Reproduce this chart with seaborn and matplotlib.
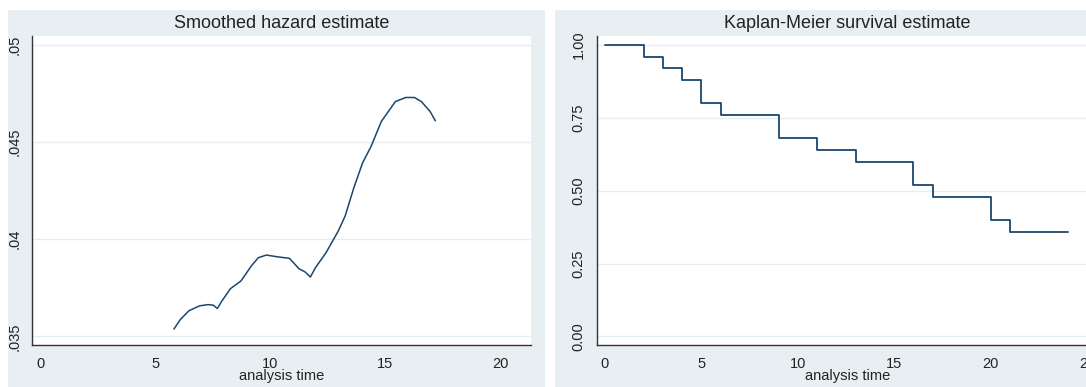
import matplotlib
matplotlib.use("Agg")
import matplotlib.pyplot as plt
from matplotlib.patches import Rectangle
import seaborn as sns
import pandas as pd

# ---- data ----
hazard_time = [5.80, 6.07, 6.45, 6.90, 7.28, 7.51, 7.69, 7.89, 8.26, 8.72, 9.17, 9.47,
               9.82, 10.30, 10.83, 11.24, 11.51, 11.74, 11.96, 12.42, 12.95, 13.25,
               13.63, 14.01, 14.38, 14.83, 15.44, 15.89, 16.27, 16.57, 16.95, 17.18]
hazard_value = [0.03538, 0.03586, 0.03632, 0.03657, 0.03664, 0.03661, 0.03644, 0.03683,
                0.03746, 0.03786, 0.03863, 0.03905, 0.03919, 0.03910, 0.03902, 0.03849,
                0.03832, 0.03806, 0.03854, 0.03931, 0.04042, 0.04119, 0.04265, 0.04393,
                0.04478, 0.04607, 0.04709, 0.04730, 0.04730, 0.04709, 0.04658, 0.04610]

km_time = [0, 2, 3, 4, 5, 6, 9, 11, 13, 16, 17, 20, 21, 24]
km_surv = [1.00, 0.96, 0.92, 0.88, 0.80, 0.76, 0.68, 0.64, 0.60, 0.52, 0.48, 0.40, 0.36, 0.36]

hazard_yticks = [0.035, 0.04, 0.045, 0.05]
hazard_yticklabels = [".035", ".04", ".045", ".05"]
hazard_xticks = [0, 5, 10, 15, 20]
km_yticks = [0.0, 0.25, 0.5, 0.75, 1.0]
km_yticklabels = ["0.00", "0.25", "0.50", "0.75", "1.00"]
km_xticks = [0, 5, 10, 15, 20, 25]

titles = ["Smoothed hazard estimate", "Kaplan-Meier survival estimate"]
xlabel = "analysis time"

# ---- style ----
sns.set_theme(style="white")
plt.rcParams["font.family"] = ["Liberation Sans", "DejaVu Sans"]

W, H = 1086, 387
fig = plt.figure(figsize=(W / 100, H / 100), dpi=100)
fig.patch.set_facecolor("white")

BG = "#e8eff2"
GRID = "#e4edf0"
LINE = "#1a476f"
AXC = "#333333"
TXT = "#222222"

def px(x0, y0, x1, y1):
    return [x0 / W, 1 - y1 / H, (x1 - x0) / W, (y1 - y0) / H]

# graph regions
for (x0, x1) in [(8, 545), (555, 1090)]:
    fig.add_artist(Rectangle((x0 / W, 0), (x1 - x0) / W, (387 - 10) / H,
                             transform=fig.transFigure, facecolor=BG,
                             edgecolor="none", zorder=0))

ax1 = fig.add_axes(px(32.3, 35.7, 530.7, 345))
ax2 = fig.add_axes(px(596.7, 35.7, 1098.6, 345))

haz_df = pd.DataFrame({"t": hazard_time, "h": hazard_value})
km_df = pd.DataFrame({"t": km_time, "s": km_surv})

sns.lineplot(data=haz_df, x="t", y="h", ax=ax1, color=LINE, lw=1.1,
             estimator=None, sort=False)
sns.lineplot(data=km_df, x="t", y="s", ax=ax2, color=LINE, lw=1.3,
             estimator=None, sort=False, drawstyle="steps-post")

ax1.set_xlim(-0.366, 21.33)
ax1.set_ylim(0.03456, 0.05048)
ax1.set_xticks(hazard_xticks)
ax1.set_yticks(hazard_yticks)
ax1.set_yticklabels(hazard_yticklabels)

ax2.set_xlim(-0.43, 25.6)
ax2.set_ylim(-0.0295, 1.032)
ax2.set_xticks(km_xticks)
ax2.set_yticks(km_yticks)
ax2.set_yticklabels(km_yticklabels)

for ax, title in zip([ax1, ax2], titles):
    ax.set_facecolor("white")
    ax.set_zorder(2)
    for s in ["top", "right"]:
        ax.spines[s].set_visible(False)
    for s in ["left", "bottom"]:
        ax.spines[s].set_color(AXC)
        ax.spines[s].set_linewidth(1.0)
    ax.yaxis.grid(True, color=GRID, lw=1.0)
    ax.xaxis.grid(False)
    ax.set_axisbelow(True)
    ax.tick_params(axis="both", direction="out", length=5, width=1.0,
                   color=AXC, labelcolor=TXT, labelsize=10.5)
    ax.tick_params(axis="x", pad=3.5)
    ax.tick_params(axis="y", pad=3)
    for lab in ax.get_yticklabels():
        lab.set_rotation(90)
        lab.set_va("center")
    ax.set_xlabel(xlabel, fontsize=10.5, color=TXT, labelpad=-1)
    ax.set_ylabel("")
    ax.set_title(title, fontsize=13, color=TXT, pad=5.5)

fig.savefig("out.png", dpi=100, facecolor="white")
